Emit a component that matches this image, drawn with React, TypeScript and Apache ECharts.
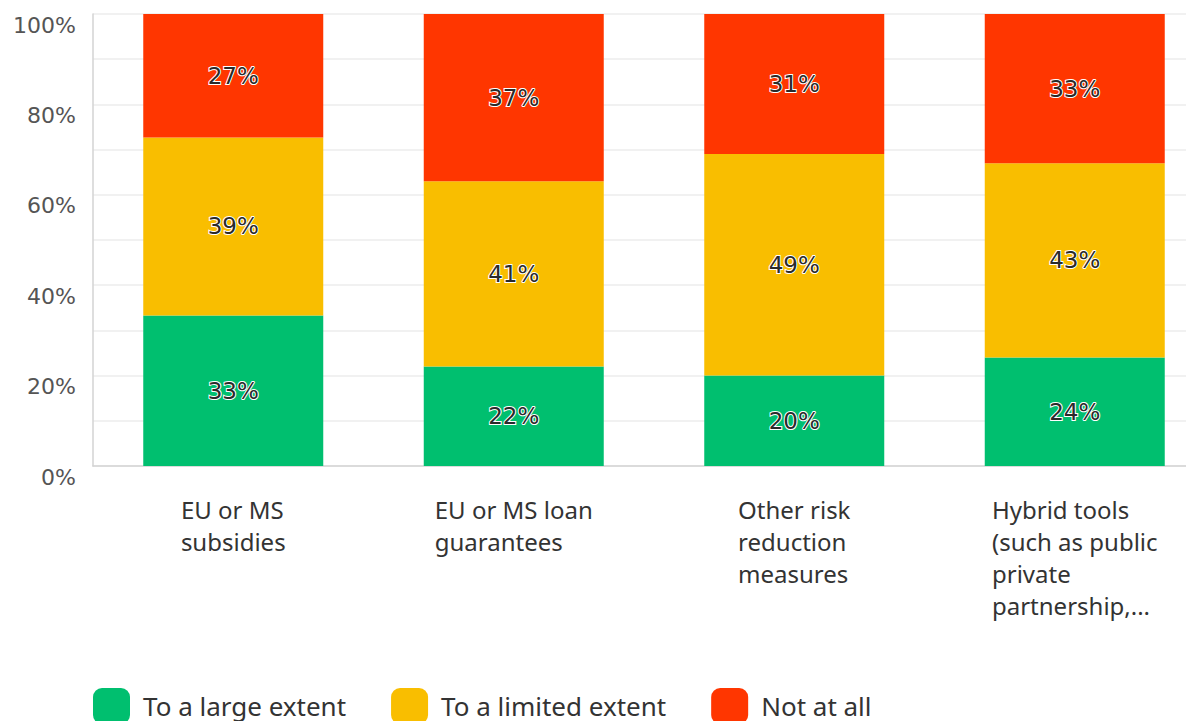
import React, { useEffect, useRef } from "react";
import * as echarts from "echarts";

const categories = [
  "EU or MS\nsubsidies",
  "EU or MS loan\nguarantees",
  "Other risk\nreduction\nmeasures",
  "Hybrid tools\n(such as public\nprivate\npartnership,...",
];
const largeExtent = [33.3, 22, 20, 24];
const limitedExtent = [39.4, 41, 49, 43];
const notAtAll = [27.3, 37, 31, 33];
const seriesNames = ["To a large extent", "To a limited extent", "Not at all"];
const colors = ["#00BF6F", "#F9BE00", "#FF3600"];

const numFont = "'DejaVu Sans', sans-serif";
const catFont = "'Noto Sans', sans-serif";

export default function App() {
  const ref = useRef<HTMLDivElement>(null);
  useEffect(() => {
    if (!ref.current) return;
    const chart = echarts.init(ref.current, undefined, { renderer: "svg" });
    const mk = (name: string, data: number[], color: string) => ({
      name,
      type: "bar",
      stack: "total",
      data,
      barWidth: 180,
      itemStyle: { color },
      label: {
        show: true,
        position: "inside",
        formatter: (p: any) => Math.round(p.value) + "%",
        fontFamily: numFont,
        fontSize: 23,
        color: "#2a2a2a",
        textBorderColor: "#fff",
        textBorderWidth: 2,
      },
    });
    chart.setOption({
      animation: false,
      grid: { left: 93, top: 14, bottom: 255, right: 0 },
      legend: {
        left: 88,
        top: 683,
        itemWidth: 37,
        itemHeight: 36,
        itemGap: 45,
        icon: "roundRect",
        textStyle: { fontFamily: catFont, fontSize: 26, color: "#333", padding: [0, 0, 0, 8] },
        data: seriesNames,
      },
      xAxis: {
        type: "category",
        data: categories,
        axisLine: { lineStyle: { color: "#d3d3d3", width: 1.5 } },
        axisTick: { show: false },
        axisLabel: {
          interval: 0,
          margin: 27,
          formatter: (v: string) => v.split("\n").map((l) => "{a|" + l + "}").join("\n"),
          rich: {
            a: {
              fontFamily: catFont,
              fontSize: 24,
              lineHeight: 32,
              color: "#333",
              align: "left",
            },
          },
        },
      },
      yAxis: {
        type: "value",
        min: 0,
        max: 100,
        interval: 10,
        axisLine: { show: true, lineStyle: { color: "#d3d3d3", width: 1.5 } },
        axisTick: { show: false },
        splitLine: { lineStyle: { color: "#ececec", width: 1.5 } },
        axisLabel: {
          formatter: (v: number) => (v % 20 === 0 ? v + "%" : ""),
          fontFamily: numFont,
          fontSize: 22,
          color: "#555",
          verticalAlign: "top",
          margin: 17,
        },
      },
      series: [
        mk(seriesNames[0], largeExtent, colors[0]),
        mk(seriesNames[1], limitedExtent, colors[1]),
        mk(seriesNames[2], notAtAll, colors[2]),
      ],
    });
    return () => chart.dispose();
  }, []);
  return (
    <div
      style={{ position: "fixed", left: 0, top: 0, width: 1186, height: 721, overflow: "hidden", background: "#fff" }}
    >
      <div ref={ref} style={{ width: 1215, height: 721 }} />
    </div>
  );
}
